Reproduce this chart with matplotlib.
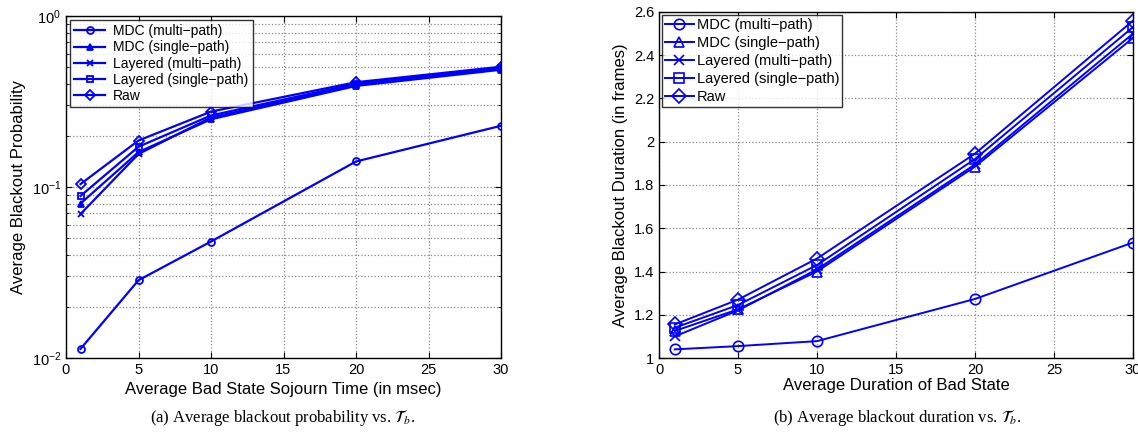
import numpy as np
import matplotlib
matplotlib.use("Agg")
import matplotlib.pyplot as plt
from matplotlib.ticker import LogLocator

plt.rcParams['font.family'] = ['Liberation Sans', 'DejaVu Sans']
plt.rcParams['mathtext.fontset'] = 'stix'

x = [1, 5, 10, 20, 30]
labels = ['MDC (multi\u2212path)', 'MDC (single\u2212path)', 'Layered (multi\u2212path)',
          'Layered (single\u2212path)', 'Raw']
markers = ['o', '^', 'x', 's', 'D']

# blackout probability
prob_mdc_multi = [0.0113, 0.0285, 0.048, 0.141, 0.228]
prob_mdc_single = [0.080, 0.160, 0.249, 0.390, 0.485]
prob_lay_multi = [0.0695, 0.156, 0.255, 0.395, 0.492]
prob_lay_single = [0.0886, 0.172, 0.262, 0.402, 0.498]
prob_raw = [0.104, 0.187, 0.276, 0.410, 0.505]

# blackout duration
dur_mdc_multi = [1.04, 1.055, 1.078, 1.273, 1.534]
dur_mdc_single = [1.125, 1.225, 1.40, 1.885, 2.48]
dur_lay_multi = [1.10, 1.22, 1.41, 1.895, 2.50]
dur_lay_single = [1.14, 1.245, 1.43, 1.92, 2.53]
dur_raw = [1.155, 1.27, 1.46, 1.945, 2.56]

prob = [prob_mdc_multi, prob_mdc_single, prob_lay_multi, prob_lay_single, prob_raw]
dur = [dur_mdc_multi, dur_mdc_single, dur_lay_multi, dur_lay_single, dur_raw]

fig = plt.figure(figsize=(11.38, 4.43), dpi=100)
ax1 = fig.add_axes([66 / 1138, 1 - 358 / 443, 435 / 1138, 342 / 443])
ax2 = fig.add_axes([659 / 1138, 1 - 358 / 443, 474 / 1138, 346 / 443])

for ys, lab, m in zip(prob, labels, markers):
    ax1.plot(x, ys, color='blue', lw=1.6, marker=m, ms=5, mfc='none' if m != '^' else 'blue',
             mec='blue', mew=1.3, label=lab)
ax1.set_yscale('log')
ax1.set_xlim(0, 30)
ax1.set_ylim(1e-2, 1)
ax1.set_xticks([0, 5, 10, 15, 20, 25, 30])
ax1.yaxis.set_minor_locator(LogLocator(base=10, subs=np.arange(2, 10)))
ax1.grid(True, which='major', linestyle=':', color='#888888', lw=0.9)
ax1.grid(True, which='minor', axis='y', linestyle=':', color='#888888', lw=0.9)
ax1.set_xlabel('Average Bad State Sojourn Time (in msec)', fontsize=12)
ax1.set_ylabel('Average Blackout Probability', fontsize=12)
leg1 = ax1.legend(loc='upper left', fontsize=10, frameon=True, fancybox=False,
                  edgecolor='black', handlelength=2.2, borderaxespad=0.3, labelspacing=0.15,
                  borderpad=0.3, handletextpad=0.6)
leg1.get_frame().set_linewidth(1.0)

for ys, lab, m in zip(dur, labels, markers):
    ax2.plot(x, ys, color='blue', lw=1.4, marker=m, ms=7.5, mfc='none', mec='blue',
             mew=1.2, label=lab)
ax2.set_xlim(0, 30)
ax2.set_ylim(1, 2.6)
ax2.set_xticks([0, 5, 10, 15, 20, 25, 30])
ax2.set_yticks([1, 1.2, 1.4, 1.6, 1.8, 2, 2.2, 2.4, 2.6])
ax2.set_yticklabels(['1', '1.2', '1.4', '1.6', '1.8', '2', '2.2', '2.4', '2.6'])
ax2.grid(True, linestyle=':', color='#888888', lw=0.9)
ax2.set_xlabel('Average Duration of Bad State', fontsize=12, labelpad=1)
ax2.set_ylabel('Average Blackout Duration (in frames)', fontsize=12)
leg2 = ax2.legend(loc='upper left', fontsize=10.5, frameon=True, fancybox=False,
                  edgecolor='black', handlelength=2.0, borderaxespad=0.2, labelspacing=0.28,
                  borderpad=0.2, handletextpad=0.2)
leg2.get_frame().set_linewidth(1.0)

for ax in (ax1, ax2):
    ax.tick_params(direction='in', labelsize=10.5, top=True, right=True, length=4)
    ax.tick_params(which='minor', direction='in', top=True, right=True, length=2)
    for s in ax.spines.values():
        s.set_linewidth(1.0)

fig.text(283 / 1138, 1 - 418 / 443, r'(a) Average blackout probability vs. $\mathcal{T}_b$.',
         ha='center', va='center', fontsize=12, family='Liberation Serif')
fig.text(897 / 1138, 1 - 418 / 443, r'(b) Average blackout duration vs. $\mathcal{T}_b$.',
         ha='center', va='center', fontsize=12, family='Liberation Serif')

fig.savefig('out.png', dpi=100)
